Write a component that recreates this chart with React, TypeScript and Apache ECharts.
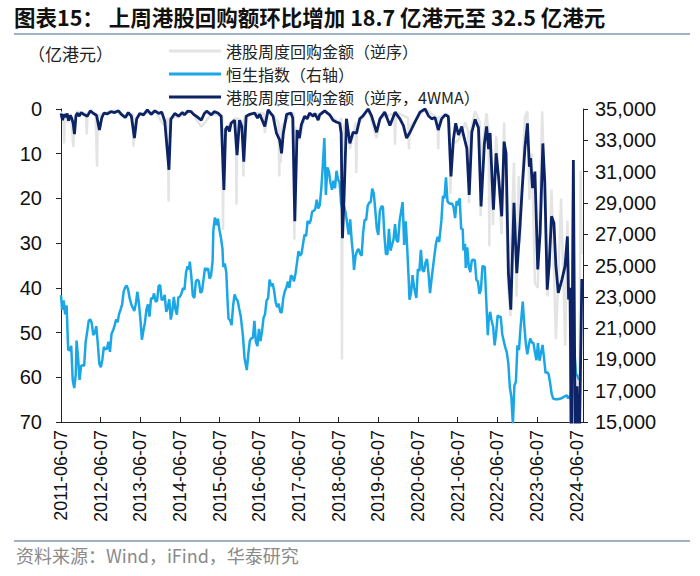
import React, { useEffect, useRef } from "react";
import * as echarts from "echarts";

const TITLE = "图表15： 上周港股回购额环比增加 18.7 亿港元至 32.5 亿港元";
const UNIT = "（亿港元）";
const SOURCE = "资料来源：Wind，iFind，华泰研究";
const NAME_WEEKLY = "港股周度回购金额（逆序）";
const NAME_HSI = "恒生指数（右轴）";
const NAME_4WMA = "港股周度回购金额（逆序，4WMA）";
const START_DATE = "2011-06-07";
const FIRST_LABEL_YEAR = 2011;

// weekly buyback amount (亿港元), reversed axis
const weeklyBuyback: [string, number][] = [
  ["2011-06-07", 0.6], ["2011-06-28", 2.0], ["2011-07-06", 7.7], ["2011-07-13", 1.0], ["2011-08-09", 3.0],
  ["2011-09-06", 1.5], ["2011-09-28", 8.5], ["2011-10-09", 3.0], ["2011-10-30", 0.5], ["2011-12-20", 1.0],
  ["2012-01-23", 1.0], ["2012-01-30", 5.7], ["2012-02-08", 0.8], ["2012-04-20", 1.0], ["2012-05-04", 12.9],
  ["2012-05-11", 1.5], ["2012-07-30", 0.8], ["2012-10-20", 0.3], ["2013-01-10", 2.0], ["2013-03-29", 1.0],
  ["2013-04-05", 8.4], ["2013-04-12", 2.5], ["2013-06-20", 1.0], ["2013-10-20", 0.5], ["2014-01-05", 3.5],
  ["2014-02-15", 2.0], ["2014-02-22", 20.7], ["2014-03-01", 2.0], ["2014-06-25", 1.5], ["2014-09-17", 0.5],
  ["2014-12-20", 4.0], ["2015-03-22", 1.2], ["2015-07-01", 1.5], ["2015-07-08", 27.0], ["2015-07-15", 5.0],
  ["2015-09-20", 3.0], ["2015-11-02", 2.0], ["2015-11-09", 21.4], ["2015-11-16", 2.0], ["2016-01-05", 3.0],
  ["2016-01-12", 15.1], ["2016-01-19", 2.0], ["2016-04-24", 0.9], ["2016-07-20", 1.0], ["2016-07-27", 5.4],
  ["2016-08-26", 0.2], ["2016-11-30", 3.0], ["2016-12-07", 15.1], ["2016-12-14", 5.0], ["2016-12-21", 12.0],
  ["2016-12-28", 4.0], ["2017-03-24", 0.9], ["2017-04-18", 1.0], ["2017-04-25", 29.2], ["2017-05-02", 4.0],
  ["2017-06-10", 7.0], ["2017-07-28", 1.6], ["2017-10-15", 1.6], ["2018-01-29", 0.4], ["2018-06-17", 3.2],
  ["2018-06-30", 2.0], ["2018-07-07", 56.0], ["2018-07-14", 5.0], ["2018-08-18", 2.0], ["2018-09-18", 9.0],
  ["2018-11-09", 3.0], ["2018-11-16", 14.3], ["2018-11-23", 4.0], ["2019-03-05", 0.0], ["2019-05-22", 6.5],
  ["2019-06-22", 2.0], ["2019-11-01", 1.0], ["2019-11-08", 8.0], ["2019-11-15", 0.7], ["2020-03-08", 2.0],
  ["2020-03-15", 9.0], ["2020-03-22", 4.0], ["2020-08-10", 0.0], ["2020-12-03", 2.0], ["2020-12-10", 9.0],
  ["2020-12-17", 2.0], ["2021-02-25", 1.0], ["2021-03-25", 3.0], ["2021-04-01", 19.0], ["2021-04-08", 8.0],
  ["2021-06-14", 7.0], ["2021-08-15", 3.0], ["2021-09-11", 5.0], ["2021-09-18", 21.0], ["2021-09-25", 6.0],
  ["2021-11-14", 0.5], ["2021-12-28", 3.0], ["2022-01-04", 24.0], ["2022-01-11", 10.0], ["2022-02-28", 1.0],
  ["2022-03-18", 5.0], ["2022-03-25", 30.7], ["2022-04-01", 5.0], ["2022-04-28", 26.0], ["2022-05-27", 6.0],
  ["2022-07-15", 28.0], ["2022-08-08", 3.0], ["2022-09-15", 40.0], ["2022-10-05", 46.3], ["2022-10-12", 30.0],
  ["2022-11-07", 12.0], ["2022-12-01", 42.0], ["2022-12-20", 15.0], ["2023-01-01", 30.0], ["2023-02-15", 2.0],
  ["2023-03-10", 0.5], ["2023-03-29", 20.3], ["2023-04-20", 10.0], ["2023-05-19", 38.9], ["2023-06-14", 40.0],
  ["2023-07-25", 0.5], ["2023-08-18", 20.0], ["2023-09-12", 41.9], ["2023-10-19", 18.0], ["2023-11-28", 51.5],
  ["2023-12-20", 38.0], ["2024-01-15", 20.0], ["2024-02-22", 53.0], ["2024-03-13", 25.0], ["2024-04-05", 48.0],
  ["2024-04-16", 80.0], ["2024-05-03", 20.0], ["2024-05-20", 80.0], ["2024-06-10", 60.0], ["2024-06-28", 80.0],
  ["2024-07-13", 13.8], ["2024-07-20", 32.5],
];

// Hang Seng Index (right axis)
const hsi: [string, number][] = [
  ["2011-06-07", 23100], ["2011-06-17", 22170], ["2011-07-01", 22770], ["2011-07-15", 21880], ["2011-07-29", 22440],
  ["2011-08-12", 19620], ["2011-08-26", 19580], ["2011-09-09", 19870], ["2011-09-23", 17670], ["2011-10-07", 17170],
  ["2011-10-21", 18030], ["2011-10-28", 20200], ["2011-11-11", 19140], ["2011-11-25", 17690], ["2011-12-09", 18590],
  ["2011-12-23", 18630], ["2012-01-06", 18590], ["2012-01-20", 20110], ["2012-02-03", 20760], ["2012-02-17", 21460],
  ["2012-03-02", 21560], ["2012-03-16", 21320], ["2012-03-30", 20560], ["2012-04-13", 20700], ["2012-04-27", 21120],
  ["2012-05-11", 20000], ["2012-05-25", 18710], ["2012-06-08", 18500], ["2012-06-22", 19000], ["2012-07-06", 19800],
  ["2012-07-20", 19640], ["2012-08-03", 19670], ["2012-08-17", 20120], ["2012-08-31", 19480], ["2012-09-14", 20630],
  ["2012-09-28", 20840], ["2012-10-12", 21140], ["2012-10-26", 21550], ["2012-11-09", 21380], ["2012-11-23", 21910],
  ["2012-12-07", 22190], ["2012-12-21", 22510], ["2013-01-04", 23330], ["2013-01-18", 23600], ["2013-02-01", 23720],
  ["2013-02-15", 23440], ["2013-03-01", 22880], ["2013-03-15", 22530], ["2013-03-29", 22300], ["2013-04-12", 22090],
  ["2013-04-26", 22550], ["2013-05-10", 23320], ["2013-05-24", 22620], ["2013-06-07", 21580], ["2013-06-21", 20260],
  ["2013-07-05", 20850], ["2013-07-19", 21360], ["2013-08-02", 22190], ["2013-08-16", 22520], ["2013-08-30", 21730],
  ["2013-09-13", 22920], ["2013-09-27", 22860], ["2013-10-11", 23220], ["2013-10-25", 22700], ["2013-11-08", 22740],
  ["2013-11-22", 23700], ["2013-12-06", 23740], ["2013-12-20", 22810], ["2014-01-03", 22820], ["2014-01-17", 23130],
  ["2014-01-31", 22040], ["2014-02-14", 22300], ["2014-02-28", 22840], ["2014-03-14", 21540], ["2014-03-28", 22070],
  ["2014-04-11", 23000], ["2014-04-25", 22220], ["2014-05-09", 21860], ["2014-05-23", 22960], ["2014-06-06", 23000],
  ["2014-06-20", 23200], ["2014-07-04", 23550], ["2014-07-18", 23450], ["2014-08-01", 24530], ["2014-08-15", 24950],
  ["2014-08-29", 24750], ["2014-09-05", 25240], ["2014-09-19", 24300], ["2014-10-03", 23060], ["2014-10-17", 22930],
  ["2014-10-31", 23990], ["2014-11-14", 24090], ["2014-11-28", 23990], ["2014-12-12", 23250], ["2014-12-26", 23350],
  ["2015-01-09", 24080], ["2015-01-23", 24850], ["2015-02-06", 24680], ["2015-02-20", 24830], ["2015-03-06", 24160],
  ["2015-03-20", 24380], ["2015-04-03", 25280], ["2015-04-10", 27270], ["2015-04-24", 28060], ["2015-05-08", 27580],
  ["2015-05-22", 27990], ["2015-06-05", 27260], ["2015-06-19", 26760], ["2015-07-03", 26060], ["2015-07-10", 24900],
  ["2015-07-24", 25130], ["2015-08-07", 24550], ["2015-08-21", 22410], ["2015-08-28", 21610], ["2015-09-11", 21500],
  ["2015-09-25", 21190], ["2015-10-09", 22460], ["2015-10-23", 23150], ["2015-11-06", 22870], ["2015-11-20", 22750],
  ["2015-12-04", 22240], ["2015-12-18", 21760], ["2016-01-08", 20450], ["2016-01-22", 19080], ["2016-02-12", 18320],
  ["2016-02-26", 19360], ["2016-03-11", 20200], ["2016-03-25", 20350], ["2016-04-08", 20370], ["2016-04-22", 21470],
  ["2016-05-06", 20110], ["2016-05-20", 19850], ["2016-06-03", 20950], ["2016-06-17", 20170], ["2016-07-01", 20790],
  ["2016-07-15", 21660], ["2016-07-29", 21890], ["2016-08-12", 22770], ["2016-08-26", 22910], ["2016-09-09", 24100],
  ["2016-09-23", 23690], ["2016-10-07", 23850], ["2016-10-21", 23370], ["2016-11-04", 22640], ["2016-11-18", 22340],
  ["2016-12-02", 22560], ["2016-12-16", 22020], ["2016-12-30", 22000], ["2017-01-13", 22940], ["2017-01-27", 23360],
  ["2017-02-10", 23580], ["2017-02-24", 23970], ["2017-03-10", 23570], ["2017-03-24", 24360], ["2017-04-07", 24270],
  ["2017-04-21", 23990], ["2017-05-05", 24480], ["2017-05-19", 25170], ["2017-06-02", 25920], ["2017-06-16", 25630],
  ["2017-06-30", 25760], ["2017-07-14", 26390], ["2017-07-28", 26980], ["2017-08-11", 26880], ["2017-08-25", 27850],
  ["2017-09-08", 27670], ["2017-09-22", 27880], ["2017-10-06", 28460], ["2017-10-20", 28490], ["2017-11-03", 28600],
  ["2017-11-17", 29200], ["2017-12-01", 28640], ["2017-12-15", 28850], ["2017-12-29", 29920], ["2018-01-12", 31410],
  ["2018-01-26", 33150], ["2018-02-09", 29510], ["2018-02-23", 31270], ["2018-03-09", 30990], ["2018-03-23", 30310],
  ["2018-04-06", 29840], ["2018-04-20", 30420], ["2018-05-04", 29930], ["2018-05-18", 31050], ["2018-06-01", 30490],
  ["2018-06-15", 30310], ["2018-06-29", 28960], ["2018-07-13", 28530], ["2018-07-27", 28800], ["2018-08-10", 28370],
  ["2018-08-24", 27670], ["2018-09-07", 26970], ["2018-09-21", 27950], ["2018-10-05", 26570], ["2018-10-19", 25560],
  ["2018-10-26", 24720], ["2018-11-09", 25600], ["2018-11-23", 25930], ["2018-12-07", 26060], ["2018-12-21", 25750],
  ["2019-01-04", 25630], ["2019-01-18", 27090], ["2019-02-01", 27930], ["2019-02-15", 27900], ["2019-03-01", 28810],
  ["2019-03-15", 29010], ["2019-03-29", 29050], ["2019-04-12", 29910], ["2019-04-26", 29610], ["2019-05-10", 28550],
  ["2019-05-24", 27350], ["2019-06-07", 26960], ["2019-06-21", 28470], ["2019-07-05", 28770], ["2019-07-19", 28770],
  ["2019-08-02", 26920], ["2019-08-16", 25730], ["2019-08-30", 25720], ["2019-09-13", 27350], ["2019-09-27", 25950],
  ["2019-10-11", 26310], ["2019-10-25", 26670], ["2019-11-08", 27650], ["2019-11-22", 26600], ["2019-12-06", 26500],
  ["2019-12-20", 27870], ["2020-01-03", 28450], ["2020-01-17", 29060], ["2020-01-31", 26310], ["2020-02-14", 27820],
  ["2020-02-28", 26130], ["2020-03-13", 24030], ["2020-03-20", 22810], ["2020-04-03", 23240], ["2020-04-17", 24380],
  ["2020-05-01", 23610], ["2020-05-22", 22930], ["2020-06-05", 24770], ["2020-06-19", 24640], ["2020-07-03", 26000],
  ["2020-07-17", 24710], ["2020-07-31", 24600], ["2020-08-14", 25180], ["2020-08-28", 25420], ["2020-09-11", 24500],
  ["2020-09-25", 23240], ["2020-10-09", 24120], ["2020-10-23", 24920], ["2020-11-06", 25710], ["2020-11-20", 26450],
  ["2020-12-04", 26840], ["2020-12-18", 26500], ["2021-01-08", 27880], ["2021-01-22", 29450], ["2021-02-05", 29290],
  ["2021-02-19", 30640], ["2021-03-05", 29100], ["2021-03-19", 28990], ["2021-04-02", 28940], ["2021-04-16", 28970],
  ["2021-04-30", 28720], ["2021-05-14", 28030], ["2021-05-28", 29120], ["2021-06-11", 28840], ["2021-06-25", 29290],
  ["2021-07-09", 27340], ["2021-07-23", 27320], ["2021-07-30", 25960], ["2021-08-13", 26390], ["2021-08-20", 24850],
  ["2021-09-03", 26160], ["2021-09-17", 24920], ["2021-10-01", 24580], ["2021-10-15", 25330], ["2021-10-29", 25380],
  ["2021-11-12", 25330], ["2021-11-26", 24080], ["2021-12-10", 23990], ["2021-12-24", 23190], ["2022-01-07", 23490],
  ["2022-01-21", 24970], ["2022-02-11", 24910], ["2022-02-25", 22770], ["2022-03-11", 20550], ["2022-03-18", 21410],
  ["2022-04-01", 22040], ["2022-04-14", 21520], ["2022-04-29", 21090], ["2022-05-13", 19900], ["2022-05-27", 20700],
  ["2022-06-10", 21810], ["2022-06-24", 21720], ["2022-07-08", 21730], ["2022-07-22", 20610], ["2022-08-05", 20180],
  ["2022-08-19", 19770], ["2022-09-02", 19450], ["2022-09-16", 18760], ["2022-09-30", 17220], ["2022-10-14", 16590],
  ["2022-10-28", 14860], ["2022-11-11", 17330], ["2022-11-25", 17570], ["2022-12-09", 19900], ["2022-12-23", 19590],
  ["2023-01-06", 21000], ["2023-01-27", 22690], ["2023-02-10", 21190], ["2023-02-24", 20010], ["2023-03-10", 19320],
  ["2023-03-24", 19920], ["2023-04-06", 20330], ["2023-04-21", 20080], ["2023-05-05", 20050], ["2023-05-19", 19450],
  ["2023-06-02", 18950], ["2023-06-16", 20040], ["2023-06-30", 18920], ["2023-07-14", 19410], ["2023-07-28", 19920],
  ["2023-08-11", 19080], ["2023-08-25", 18130], ["2023-09-08", 18200], ["2023-09-22", 18060], ["2023-10-06", 17490],
  ["2023-10-20", 16800], ["2023-11-03", 16500], ["2023-11-24", 16450], ["2023-12-15", 16450], ["2024-01-12", 16500],
  ["2024-02-09", 16600], ["2024-03-08", 16700], ["2024-03-22", 16500], ["2024-04-12", 16720], ["2024-04-26", 17650],
  ["2024-05-10", 18960], ["2024-05-17", 19550], ["2024-05-31", 18080], ["2024-06-14", 17940], ["2024-06-28", 17720],
  ["2024-07-19", 17800],
];

// 4-week moving average of weekly buyback (亿港元), reversed axis
const buyback4wma: [string, number][] = [
  ["2011-06-07", 1.0], ["2011-06-21", 2.5], ["2011-07-05", 1.2], ["2011-07-19", 1.8], ["2011-08-02", 1.0],
  ["2011-08-16", 2.6], ["2011-08-30", 1.4], ["2011-09-13", 2.0], ["2011-09-27", 3.2], ["2011-10-09", 5.6],
  ["2011-10-23", 1.5], ["2011-11-06", 0.9], ["2011-11-20", 1.6], ["2011-12-11", 0.8], ["2012-01-08", 1.3],
  ["2012-02-05", 1.6], ["2012-03-04", 0.4], ["2012-04-01", 1.0], ["2012-04-29", 1.4], ["2012-05-26", 4.7],
  ["2012-06-16", 2.0], ["2012-07-07", 0.9], ["2012-08-04", 1.1], ["2012-09-08", 0.6], ["2012-10-13", 0.8],
  ["2012-11-17", 0.4], ["2012-12-15", 1.2], ["2013-01-19", 1.9], ["2013-02-16", 0.8], ["2013-03-16", 1.6],
  ["2013-04-13", 6.5], ["2013-05-04", 2.2], ["2013-06-01", 1.0], ["2013-07-06", 1.3], ["2013-08-10", 0.2],
  ["2013-09-14", 1.2], ["2013-10-19", 0.4], ["2013-11-23", 1.0], ["2013-12-21", 0.7], ["2014-01-18", 2.8],
  ["2014-02-25", 13.6], ["2014-03-15", 2.3], ["2014-04-19", 1.0], ["2014-05-24", 1.6], ["2014-06-28", 0.8],
  ["2014-07-18", 1.3], ["2014-08-16", 0.5], ["2014-09-17", 0.6], ["2014-10-11", 1.2], ["2014-11-03", 1.6],
  ["2014-12-20", 2.5], ["2015-01-17", 1.0], ["2015-02-07", 0.5], ["2015-03-22", 1.3], ["2015-04-18", 0.6],
  ["2015-05-22", 0.9], ["2015-06-21", 1.6], ["2015-07-16", 18.1], ["2015-08-01", 4.5], ["2015-08-16", 3.9],
  ["2015-09-05", 5.0], ["2015-09-20", 3.2], ["2015-10-22", 2.5], ["2015-11-14", 10.3], ["2015-12-07", 2.5],
  ["2015-12-28", 3.9], ["2016-01-15", 11.8], ["2016-02-06", 1.6], ["2016-03-10", 1.2], ["2016-04-24", 0.9],
  ["2016-05-20", 2.0], ["2016-06-10", 1.2], ["2016-07-27", 3.9], ["2016-08-26", 0.2], ["2016-09-20", 1.0],
  ["2016-10-11", 1.6], ["2016-11-11", 5.4], ["2016-12-10", 6.9], ["2016-12-28", 9.9], ["2017-01-13", 5.4],
  ["2017-02-13", 1.2], ["2017-03-24", 0.9], ["2017-04-10", 2.0], ["2017-04-29", 25.1], ["2017-05-20", 4.7],
  ["2017-06-10", 6.5], ["2017-06-28", 3.5], ["2017-07-28", 1.6], ["2017-08-20", 2.2], ["2017-09-12", 0.9],
  ["2017-10-15", 1.6], ["2017-10-30", 1.0], ["2017-11-30", 2.5], ["2017-12-14", 1.3], ["2018-01-29", 0.4],
  ["2018-03-16", 1.3], ["2018-04-16", 2.5], ["2018-05-16", 2.9], ["2018-06-17", 3.2], ["2018-06-30", 5.5],
  ["2018-07-12", 28.9], ["2018-07-26", 20.0], ["2018-08-18", 2.2], ["2018-09-18", 7.7], ["2018-10-18", 5.2],
  ["2018-11-18", 5.4], ["2018-12-18", 2.2], ["2019-01-18", 1.5], ["2019-03-05", 0.0], ["2019-04-05", 1.5],
  ["2019-05-22", 5.2], ["2019-06-22", 2.2], ["2019-08-05", 0.7], ["2019-09-22", 3.7], ["2019-11-08", 0.7],
  ["2019-12-23", 2.2], ["2020-01-24", 3.7], ["2020-02-22", 6.5], ["2020-03-25", 5.2], ["2020-05-10", 2.9],
  ["2020-06-25", 0.7], ["2020-08-10", 0.0], ["2020-09-10", 1.5], ["2020-10-10", 2.2], ["2020-11-10", 1.9],
  ["2020-12-10", 4.7], ["2021-01-10", 2.2], ["2021-02-11", 1.3], ["2021-03-13", 1.7], ["2021-04-06", 15.1],
  ["2021-04-28", 6.9], ["2021-05-19", 3.2], ["2021-06-14", 5.8], ["2021-07-14", 3.9], ["2021-07-30", 5.8],
  ["2021-08-30", 8.8], ["2021-09-21", 19.2], ["2021-10-15", 5.2], ["2021-11-14", 2.3], ["2021-12-15", 4.2],
  ["2022-01-08", 21.8], ["2022-02-08", 7.7], ["2022-02-28", 3.9], ["2022-03-18", 9.0], ["2022-04-01", 5.4],
  ["2022-05-02", 22.5], ["2022-05-27", 9.9], ["2022-06-18", 15.1], ["2022-07-17", 24.0], ["2022-08-08", 7.3],
  ["2022-08-26", 9.9], ["2022-09-17", 36.7], ["2022-10-09", 44.9], ["2022-11-07", 21.0], ["2022-12-03", 36.7],
  ["2023-01-01", 26.3], ["2023-01-23", 17.3], ["2023-02-17", 8.4], ["2023-03-11", 3.2], ["2023-03-29", 12.9],
  ["2023-04-09", 11.0], ["2023-04-27", 17.7], ["2023-05-19", 14.0], ["2023-06-14", 35.9], ["2023-07-06", 27.7],
  ["2023-07-31", 7.7], ["2023-08-18", 16.6], ["2023-09-09", 40.4], ["2023-09-27", 35.0], ["2023-10-19", 24.0],
  ["2023-11-10", 25.5], ["2023-11-28", 35.0], ["2023-12-20", 41.1], ["2024-01-22", 38.2], ["2024-02-20", 35.2],
  ["2024-03-13", 28.5], ["2024-03-24", 42.6], ["2024-04-07", 40.0], ["2024-04-18", 80.0], ["2024-05-07", 11.4],
  ["2024-05-25", 80.0], ["2024-06-10", 62.0], ["2024-06-28", 80.0], ["2024-07-24", 38.0],
];

const YEAR_MS = 365.25 * 86400000;
const startMs = Date.parse(START_DATE);
const toT = (d: string) => (Date.parse(d) - startMs) / YEAR_MS;
const toSeries = (arr: [string, number][]) => arr.map(([d, v]) => [toT(d), v]);

const NUM_FONT = "'Liberation Sans', Arial, 'Noto Sans CJK SC', sans-serif";
const CJK_FONT = "'Noto Sans CJK SC', 'Liberation Sans', sans-serif";

export default function App() {
  const ref = useRef<HTMLDivElement>(null);
  useEffect(() => {
    if (!ref.current) return;
    const chart = echarts.init(ref.current, undefined, { renderer: "svg" });
    chart.setOption({
      animation: false,
      backgroundColor: "#ffffff",
      grid: { left: 61, right: 117, top: 109, bottom: 154, containLabel: false },
      legend: {
        orient: "vertical",
        left: 164,
        top: 38,
        icon: "rect",
        itemWidth: 52,
        itemHeight: 3,
        itemGap: 7,
        selectedMode: false,
        data: [NAME_WEEKLY, NAME_HSI, NAME_4WMA],
        textStyle: { fontSize: 16, lineHeight: 16, color: "#222", fontFamily: CJK_FONT },
      },
      xAxis: {
        type: "value",
        min: 0,
        max: 13.16,
        interval: 1,
        axisLine: { onZero: false, lineStyle: { color: "#222", width: 1 } },
        axisTick: { show: true, inside: true, length: 5, lineStyle: { color: "#222" } },
        splitLine: { show: false },
        axisLabel: {
          rotate: 90,
          margin: 8,
          fontSize: 18,
          color: "#111",
          fontFamily: NUM_FONT,
          showMaxLabel: false,
          formatter: (v: number) =>
            Math.abs(v - Math.round(v)) < 1e-6 ? `${FIRST_LABEL_YEAR + Math.round(v)}-06-07` : "",
        },
      },
      yAxis: [
        {
          type: "value",
          inverse: true,
          min: 0,
          max: 70,
          interval: 10,
          position: "left",
          axisLine: { show: true, onZero: false, lineStyle: { color: "#222", width: 1 } },
          axisTick: { show: true, length: 5, lineStyle: { color: "#222" } },
          splitLine: { show: false },
          axisLabel: { margin: 19, fontSize: 20, color: "#111", fontFamily: NUM_FONT },
        },
        {
          type: "value",
          min: 15000,
          max: 35000,
          interval: 2000,
          position: "right",
          axisLine: { show: true, onZero: false, lineStyle: { color: "#222", width: 1 } },
          axisTick: { show: true, length: 5, lineStyle: { color: "#222" } },
          splitLine: { show: false },
          axisLabel: {
            margin: 12,
            fontSize: 20,
            color: "#111",
            fontFamily: NUM_FONT,
            formatter: (v: number) => v.toLocaleString("en-US"),
          },
        },
      ],
      series: [
        {
          name: NAME_WEEKLY,
          type: "line",
          yAxisIndex: 0,
          data: toSeries(weeklyBuyback),
          showSymbol: false,
          symbol: "none",
          itemStyle: { color: "#e4e4e4" },
          lineStyle: { color: "#e4e4e4", width: 2.5 },
          z: 1,
        },
        {
          name: NAME_HSI,
          type: "line",
          yAxisIndex: 1,
          data: toSeries(hsi),
          showSymbol: false,
          symbol: "none",
          itemStyle: { color: "#1ba7e6" },
          lineStyle: { color: "#1ba7e6", width: 2.5 },
          z: 2,
        },
        {
          name: NAME_4WMA,
          type: "line",
          yAxisIndex: 0,
          data: toSeries(buyback4wma),
          showSymbol: false,
          symbol: "none",
          itemStyle: { color: "#0c2466" },
          lineStyle: { color: "#0c2466", width: 2.8 },
          z: 3,
        },
      ],
      graphic: [
        {
          type: "text",
          left: 14,
          top: 6,
          style: { text: TITLE, fontSize: 21.5, fontWeight: "bold", fill: "#111", fontFamily: CJK_FONT },
        },
        {
          type: "line",
          shape: { x1: 14, y1: 34, x2: 690, y2: 34 },
          style: { stroke: "#7f98b5", lineWidth: 1.5 },
        },
        {
          type: "text",
          left: 28,
          top: 45,
          style: { text: UNIT, fontSize: 17, fill: "#222", fontFamily: CJK_FONT },
        },
        {
          type: "line",
          shape: { x1: 14, y1: 541, x2: 690, y2: 541 },
          style: { stroke: "#7f98b5", lineWidth: 1.5 },
        },
        {
          type: "text",
          left: 16,
          top: 546,
          style: { text: SOURCE, fontSize: 18, fill: "#8a8a8a", fontFamily: CJK_FONT },
        },
      ],
    });
    return () => chart.dispose();
  }, []);
  return (
    <div
      ref={ref}
      style={{ position: "fixed", left: 0, top: 0, width: 700, height: 576, background: "#fff" }}
    />
  );
}
